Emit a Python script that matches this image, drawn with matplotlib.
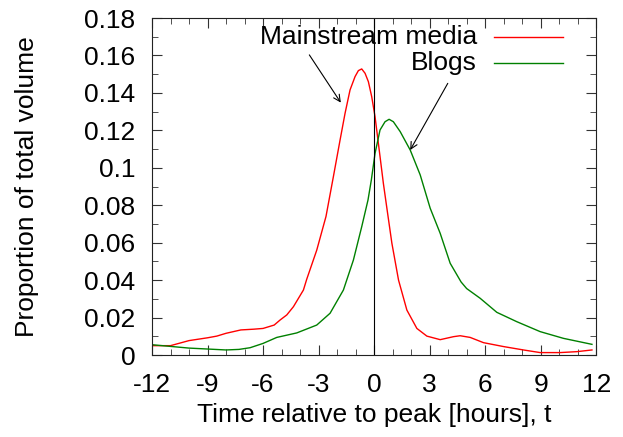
import numpy as np
import matplotlib
matplotlib.use('Agg')
from matplotlib import pyplot as plt

plt.rcParams['font.family'] = ['Liberation Sans', 'DejaVu Sans']
plt.rcParams['axes.unicode_minus'] = False

# hours relative to peak, proportion of total volume
media_t = [-12, -11, -10, -9, -8.5, -8, -7.2, -6.5, -6, -5.4, -5.08, -4.72, -4.36,
           -3.82, -3.64, -3.1, -2.6, -2.2, -1.84, -1.57, -1.3, -1.03, -0.85, -0.67,
           -0.49, -0.31, -0.13, 0.05, 0.32, 0.5, 0.69, 0.96, 1.32, 1.77, 2.31, 2.85,
           3.57, 4.29, 4.65, 5.19, 5.91, 7.0, 8.07, 8.97, 10.05, 10.96, 11.77]
media_v = [0.005, 0.005, 0.0077, 0.0092, 0.0101, 0.0116, 0.0134, 0.0138, 0.0142,
           0.016, 0.0187, 0.0214, 0.0258, 0.0347, 0.0405, 0.056, 0.074, 0.0953,
           0.1148, 0.1291, 0.1416, 0.1487, 0.1519, 0.1528, 0.1505, 0.146, 0.138,
           0.1273, 0.106, 0.0917, 0.0784, 0.0597, 0.04, 0.024, 0.0142, 0.0101,
           0.0082, 0.0098, 0.0103, 0.0094, 0.0066, 0.0045, 0.0027, 0.0013, 0.0013,
           0.0018, 0.0027]

blogs_t = [-12, -11, -10, -9, -8, -7.3, -6.7, -6, -5.26, -4.18, -3.1, -2.38, -1.66,
           -1.12, -0.67, -0.33, -0.15, 0.05, 0.32, 0.59, 0.81, 1.04, 1.41, 1.95, 2.49,
           3.03, 3.57, 4.11, 4.7, 5.0, 5.73, 6.63, 7.71, 8.97, 10.23, 11.77]
blogs_v = [0.0055, 0.0046, 0.0037, 0.0032, 0.0027, 0.003, 0.0039, 0.0062, 0.0094,
           0.0118, 0.016, 0.0223, 0.0347, 0.0507, 0.0685, 0.0828, 0.0935, 0.1077,
           0.1202, 0.1246, 0.1259, 0.1246, 0.1193, 0.1095, 0.0962, 0.0784, 0.065,
           0.049, 0.039, 0.0355, 0.0303, 0.0228, 0.0178, 0.0125, 0.0089, 0.0057]

labels = ['Mainstream media', 'Blogs']
colors = ['#ff0000', '#008000']
# arrows: (text side point, curve point)
arrow_from = [(-3.5, 0.1603), (3.98, 0.1451)]
arrow_to = [(-1.8, 0.1348), (1.95, 0.1095)]

fig = plt.figure(figsize=(6.23, 4.37), dpi=100)
ax = fig.add_axes([0.244, 0.1876, 0.713, 0.7712])

ax.plot(media_t, media_v, color=colors[0], lw=1.0)
ax.plot(blogs_t, blogs_v, color=colors[1], lw=1.0)
ax.axvline(0, color='black', lw=0.8)

for a, b in zip(arrow_from, arrow_to):
    ax.annotate('', xy=b, xytext=a,
                arrowprops=dict(arrowstyle='->', color='black', lw=0.8,
                                mutation_scale=12, shrinkA=0, shrinkB=0))

# gnuplot style key: right aligned text, sample line after it
for i, (lab, c) in enumerate(zip(labels, colors)):
    y = 0.9445 - i * 0.079
    ax.text(0.732, y, lab, ha='right', va='center', fontsize=19, transform=ax.transAxes)
    ax.plot([0.770, 0.926], [y, y], color=c, lw=1.0, transform=ax.transAxes)

ax.set_xlim(-12, 12)
ax.set_ylim(0, 0.18)
ax.set_xticks(np.arange(-12, 13, 3))
ax.set_xticks(np.arange(-12, 13, 1), minor=True)
ax.set_yticks(np.arange(0, 0.181, 0.02))
ax.set_yticks(np.arange(0, 0.181, 0.01), minor=True)
ax.set_yticklabels(['0', '0.02', '0.04', '0.06', '0.08', '0.1', '0.12', '0.14', '0.16', '0.18'])
ax.tick_params(which='both', direction='in', top=True, right=True, labelsize=19, colors='#333333', labelcolor='black')
ax.tick_params(which='major', length=7)
ax.tick_params(which='minor', length=4)
ax.tick_params(axis='x', which='major', pad=13)
ax.tick_params(axis='y', which='major', pad=12)
for s in ax.spines.values():
    s.set_color('#222222')

ax.set_xlabel('Time relative to peak [hours], t', fontsize=19)
ax.set_ylabel('Proportion of total volume', fontsize=19)
ax.xaxis.set_label_coords(0.5, -0.142)
ax.yaxis.set_label_coords(-0.255, 0.5)

fig.savefig('out.png', dpi=100)
